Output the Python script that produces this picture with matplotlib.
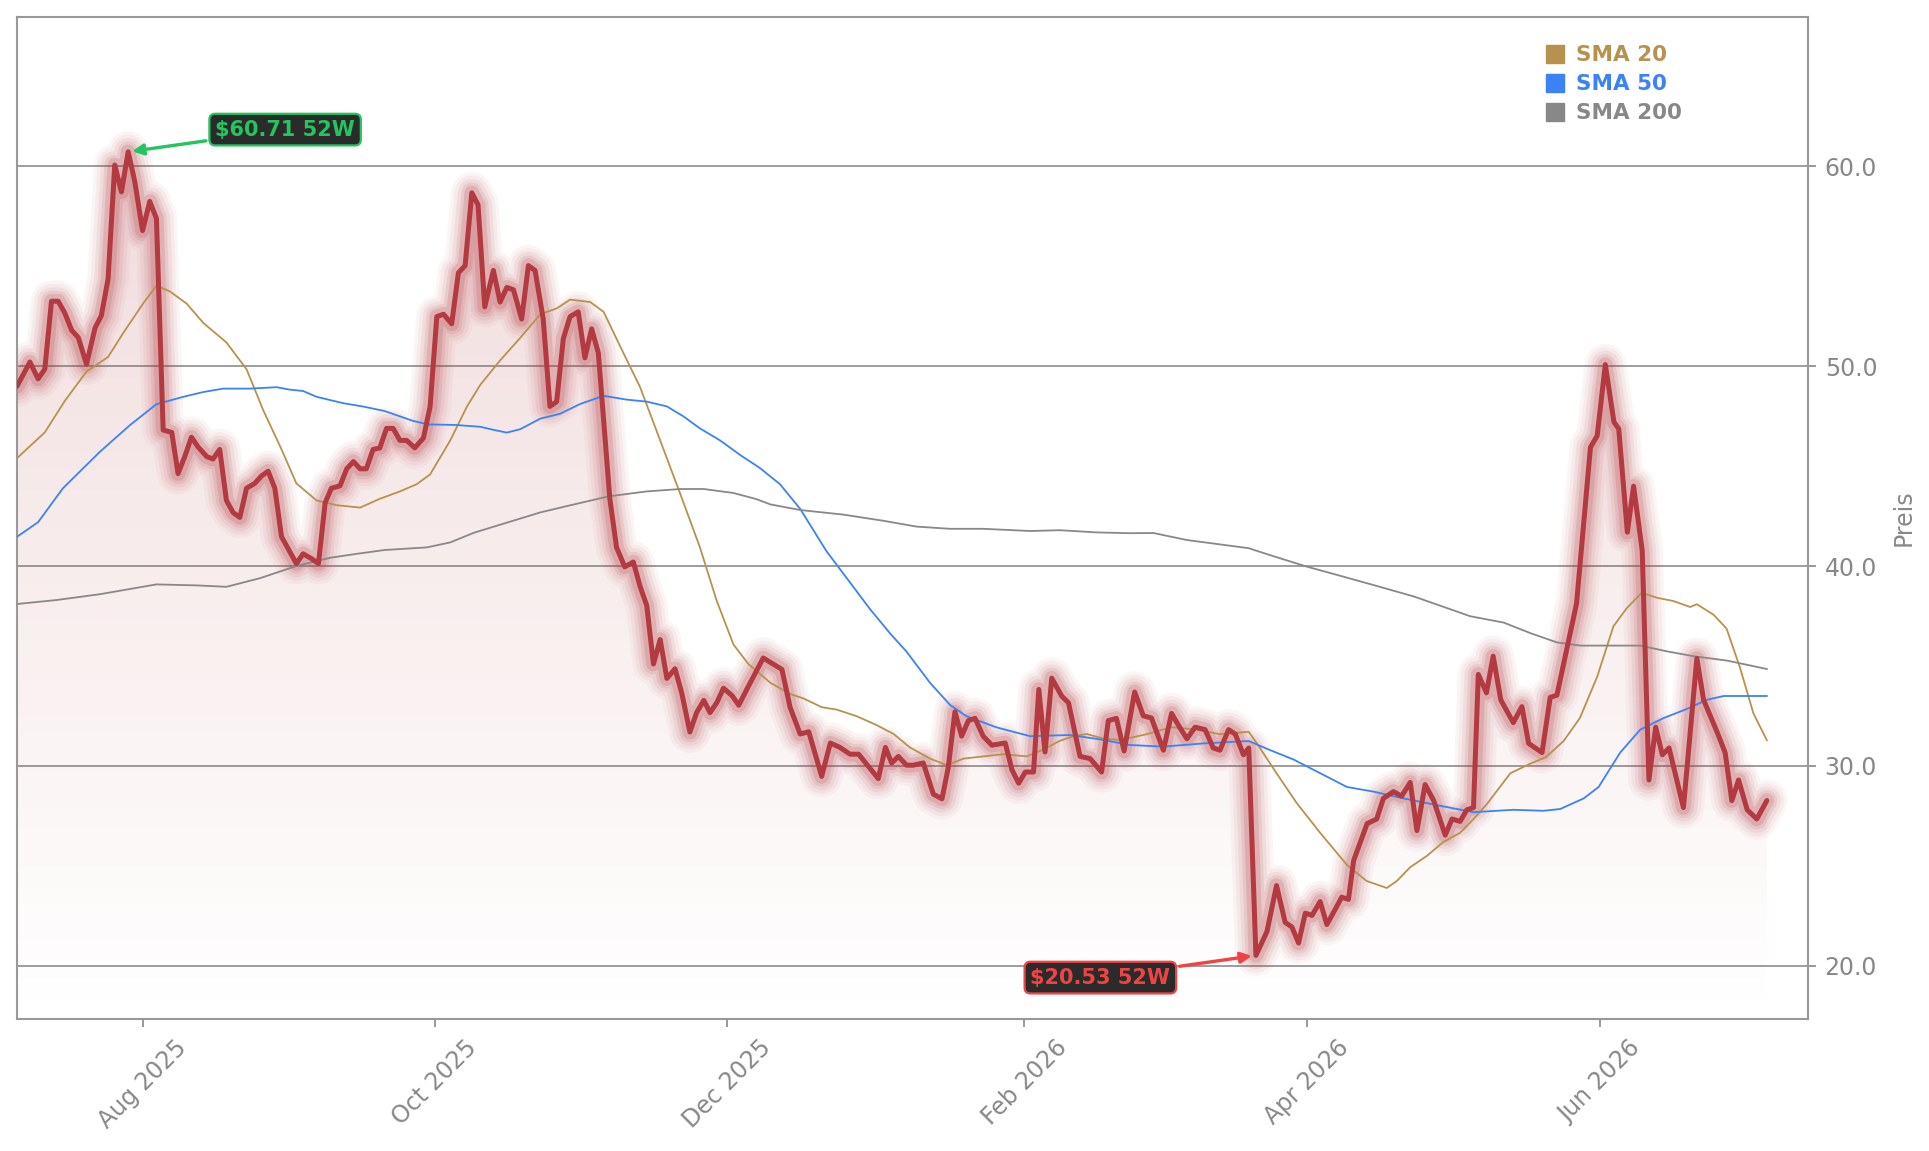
"""Kursverlauf mit SMA 20 / 50 / 200 und 52W Hoch/Tief."""

import matplotlib

matplotlib.use("Agg")
import matplotlib.dates as mdates
import matplotlib.pyplot as plt
import numpy as np
import pandas as pd
from matplotlib.colors import LinearSegmentedColormap
from matplotlib.lines import Line2D
from matplotlib.patches import Polygon

# --------------------------------------------------------------------------- #
# Daten (Tage relativ zum 2025-08-01)
# --------------------------------------------------------------------------- #
REF_DATE = pd.Timestamp("2025-08-01")
X_RANGE = (-26.2, 347.5)
Y_RANGE = (17.35, 67.45)

price_days = [
    -26.2, -23.5, -21.8, -20.4, -19.0, -17.6, -16.2, -14.8, -13.4, -11.7,
    -9.9, -8.6, -7.2, -5.8, -4.4, -3.0, -1.6, 0.0, 1.5, 2.9,
    4.3, 6.1, 7.4, 8.8, 10.2, 11.6, 13.4, 14.7, 16.1, 17.5,
    18.9, 20.3, 21.7, 23.4, 24.8, 26.2, 27.6, 29.0, 30.7, 32.1,
    33.5, 35.3, 36.7, 38.1, 39.4, 41.2, 42.6, 44.0, 45.4, 46.7,
    48.1, 49.5, 50.9, 52.3, 53.7, 55.1, 56.8, 58.6, 60.0, 61.4,
    62.8, 64.5, 65.9, 67.3, 68.7, 70.0, 71.4, 73.2, 74.6, 76.0,
    77.4, 79.1, 80.5, 81.9, 83.6, 85.0, 86.4, 87.8, 89.2, 90.9,
    92.3, 93.7, 95.1, 97.5, 98.9, 100.6, 102.4, 103.8, 105.2, 106.6,
    108.0, 109.4, 111.1, 112.5, 114.2, 115.6, 117.1, 118.4, 119.8, 121.2,
    123.0, 124.4, 126.2, 129.5, 133.4, 135.1, 137.2, 139.0, 141.7, 143.5,
    145.5, 147.6, 149.4, 153.5, 155.0, 156.3, 157.7, 159.4, 160.8, 162.9,
    165.0, 166.8, 168.1, 169.5, 170.9, 172.3, 173.7, 175.4, 177.2, 180.0,
    181.4, 182.8, 184.2, 185.9, 187.0, 188.3, 189.7, 191.8, 193.2, 195.6,
    197.7, 200.1, 201.5, 203.2, 204.8, 207.0, 208.8, 210.5, 213.0, 214.7,
    216.1, 217.9, 219.6, 221.7, 223.4, 224.8, 226.6, 228.0, 229.7, 230.8,
    232.3, 234.6, 236.6, 238.4, 239.8, 241.2, 242.6, 244.0, 245.7, 247.1,
    249.2, 250.2, 251.6, 252.7, 254.1, 255.5, 257.5, 258.9, 261.0, 262.7,
    264.5, 265.9, 267.6, 269.4, 271.8, 273.2, 274.9, 276.3, 277.7, 278.7,
    280.4, 281.8, 283.4, 286.0, 287.8, 289.2, 292.0, 293.7, 295.1, 299.2,
    302.1, 303.5, 305.2, 307.0, 308.0, 309.8, 311.1, 312.9, 314.3, 315.7,
    317.1, 318.5, 321.5, 324.3, 325.7, 328.5, 330.2, 331.6, 333.0, 334.8,
    336.8, 338.9,
]
price_vals = [
    48.99, 50.20, 49.36, 49.84, 53.24, 53.24, 52.64, 51.79, 51.42, 50.09,
    51.91, 52.52, 54.34, 60.05, 58.71, 60.71, 59.20, 56.77, 58.23, 57.38,
    46.80, 46.68, 44.62, 45.47, 46.44, 45.95, 45.47, 45.35, 45.83, 43.28,
    42.67, 42.43, 43.89, 44.13, 44.50, 44.74, 43.89, 41.46, 40.73, 40.12,
    40.61, 40.36, 40.12, 43.16, 43.89, 44.01, 44.86, 45.22, 44.86, 44.86,
    45.83, 45.90, 46.88, 46.88, 46.28, 46.28, 45.91, 46.40, 47.98, 52.47,
    52.59, 52.11, 54.66, 55.02, 58.66, 58.06, 52.96, 54.78, 53.20, 53.93,
    53.81, 52.35, 55.02, 54.78, 52.35, 47.98, 48.22, 51.38, 52.47, 52.71,
    50.41, 51.86, 50.65, 43.36, 40.93, 39.96, 40.20, 38.99, 38.02, 35.10,
    36.32, 34.38, 34.86, 33.65, 31.70, 32.67, 33.28, 32.67, 33.16, 33.89,
    33.52, 33.04, 33.89, 35.40, 34.83, 32.94, 31.60, 31.71, 29.48, 31.15,
    30.93, 30.59, 30.59, 29.37, 30.93, 30.15, 30.48, 30.04, 30.04, 30.15,
    28.59, 28.36, 29.92, 32.71, 31.49, 32.27, 32.38, 31.49, 31.04, 31.15,
    29.81, 29.14, 29.70, 29.70, 33.83, 30.70, 34.39, 33.49, 33.16, 30.48,
    30.37, 29.70, 32.27, 32.38, 30.75, 33.70, 32.51, 32.40, 30.79, 32.63,
    32.05, 31.36, 31.94, 31.82, 30.90, 30.79, 31.82, 31.59, 30.56, 30.90,
    20.53, 21.72, 24.02, 22.18, 21.95, 21.15, 22.64, 22.53, 23.22, 22.07,
    22.99, 23.44, 23.33, 25.28, 26.20, 27.12, 27.35, 28.38, 28.72, 28.49,
    29.18, 26.77, 29.07, 28.27, 26.54, 27.35, 27.23, 27.81, 27.92, 34.58,
    33.66, 35.49, 33.30, 32.17, 32.97, 31.13, 30.67, 33.43, 33.54, 38.13,
    45.94, 46.51, 50.07, 47.20, 46.86, 41.69, 43.99, 40.77, 29.30, 31.94,
    30.56, 30.90, 27.92, 35.38, 33.31, 31.71, 30.67, 28.27, 29.30, 27.81,
    27.35, 28.27,
]

sma20_days = [
    -26.2, -20.4, -16.2, -11.7, -7.2, -4.0, 0.1, 2.9, 5.7, 9.2,
    12.7, 17.5, 21.7, 25.2, 29.0, 32.1, 36.3, 40.5, 45.4, 49.5,
    53.7, 57.2, 60.0, 64.2, 67.7, 70.5, 74.6, 78.7, 83.0, 86.4,
    89.2, 93.4, 96.2, 99.6, 103.8, 108.0, 112.2, 116.3, 119.8, 123.3,
    126.4, 131.0, 135.1, 137.9, 141.7, 144.8, 149.0, 153.2, 156.7, 160.1,
    164.3, 167.8, 171.3, 175.4, 179.6, 184.5, 187.9, 191.4, 194.2, 197.0,
    200.5, 204.0, 209.5, 214.7, 219.9, 224.8, 230.8, 232.5, 236.6, 240.8,
    245.7, 251.3, 255.4, 259.6, 261.7, 264.5, 268.0, 271.4, 274.9, 277.7,
    280.5, 283.2, 285.4, 289.4, 292.8, 296.5, 299.9, 303.5, 306.9, 309.7,
    312.8, 316.0, 319.4, 322.9, 324.3, 327.8, 330.5, 333.3, 336.1, 338.9,
]
sma20_vals = [
    45.39, 46.68, 48.26, 49.72, 50.45, 51.66, 53.12, 54.02, 53.73, 53.12,
    52.15, 51.18, 49.84, 47.78, 45.83, 44.13, 43.28, 43.04, 42.92, 43.36,
    43.73, 44.09, 44.58, 46.28, 47.98, 49.07, 50.28, 51.38, 52.59, 52.88,
    53.32, 53.20, 52.71, 51.01, 48.95, 46.28, 43.60, 40.93, 38.26, 36.07,
    35.10, 34.16, 33.60, 33.38, 32.94, 32.82, 32.49, 32.04, 31.60, 30.93,
    30.37, 30.04, 30.37, 30.48, 30.59, 30.48, 30.82, 31.26, 31.49, 31.60,
    31.37, 31.30, 31.59, 31.94, 31.82, 31.59, 31.71, 31.13, 29.64, 28.15,
    26.66, 25.05, 24.25, 23.90, 24.25, 24.94, 25.51, 26.20, 26.66, 27.35,
    28.10, 28.95, 29.64, 30.10, 30.44, 31.25, 32.40, 34.46, 36.99, 37.90,
    38.66, 38.41, 38.25, 37.95, 38.09, 37.56, 36.87, 34.92, 32.63, 31.29,
]

sma50_days = [
    -26.2, -21.8, -16.6, -8.9, -2.6, 2.9, 8.5, 12.7, 16.8, 22.4,
    28.0, 30.7, 33.5, 36.3, 41.9, 46.1, 50.5, 56.5, 59.6, 65.5,
    70.5, 73.2, 76.0, 78.8, 83.0, 87.1, 91.3, 96.2, 101.0, 105.2,
    109.4, 112.8, 116.3, 120.5, 124.7, 128.8, 133.0, 137.2, 142.7, 147.6,
    151.8, 156.0, 159.4, 164.3, 168.5, 171.9, 178.2, 185.2, 193.5, 199.8,
    206.0, 213.0, 221.4, 230.8, 235.3, 240.1, 245.7, 251.3, 256.8, 263.1,
    270.1, 277.7, 286.0, 292.3, 295.8, 300.7, 303.8, 308.3, 312.5, 317.4,
    322.3, 326.4, 329.9, 334.8, 338.9,
]
sma50_vals = [
    41.46, 42.19, 43.89, 45.71, 47.05, 48.09, 48.46, 48.70, 48.87, 48.87,
    48.94, 48.82, 48.75, 48.46, 48.14, 47.97, 47.75, 47.25, 47.08, 47.05,
    46.96, 46.81, 46.67, 46.84, 47.37, 47.61, 48.10, 48.51, 48.32, 48.22,
    47.98, 47.49, 46.88, 46.28, 45.55, 44.90, 44.09, 42.86, 40.74, 39.18,
    37.84, 36.62, 35.72, 34.16, 33.05, 32.49, 31.93, 31.49, 31.55, 31.33,
    31.05, 30.97, 31.13, 31.25, 30.79, 30.33, 29.64, 28.95, 28.72, 28.38,
    28.04, 27.69, 27.81, 27.76, 27.85, 28.38, 28.95, 30.67, 31.82, 32.40,
    32.86, 33.31, 33.50, 33.50, 33.50,
]

sma200_days = [
    -26.2, -17.9, -8.9, 2.9, 11.3, 17.5, 24.5, 32.1, 39.1, 44.7,
    50.5, 59.3, 64.2, 69.1, 77.4, 83.0, 88.6, 97.2, 105.2, 112.2,
    117.1, 123.3, 128.0, 131.0, 137.2, 146.2, 154.6, 161.5, 168.5, 175.4,
    185.2, 191.4, 199.1, 206.0, 210.9, 217.9, 230.8, 235.3, 242.9, 249.9,
    256.8, 265.2, 270.7, 277.0, 284.0, 289.6, 295.1, 300.0, 307.0, 312.5,
    318.1, 323.6, 330.6, 338.9,
]
sma200_vals = [
    38.10, 38.30, 38.59, 39.08, 39.03, 38.96, 39.39, 40.00, 40.41, 40.61,
    40.80, 40.93, 41.18, 41.66, 42.27, 42.68, 43.00, 43.48, 43.73, 43.85,
    43.85, 43.65, 43.35, 43.08, 42.80, 42.57, 42.26, 41.97, 41.86, 41.86,
    41.75, 41.79, 41.68, 41.64, 41.65, 41.30, 40.89, 40.54, 39.97, 39.51,
    39.05, 38.48, 38.02, 37.49, 37.17, 36.64, 36.18, 36.02, 36.02, 36.02,
    35.73, 35.49, 35.27, 34.85,
]

sma_labels = ["SMA 20", "SMA 50", "SMA 200"]

# --------------------------------------------------------------------------- #
# Stil
# --------------------------------------------------------------------------- #
PRICE_COLOR = "#b23a40"
SMA_COLORS = ["#b8924c", "#3b82f6", "#888888"]
GREEN = "#22c55e"
RED = "#ef4444"
AXIS_GRAY = "#999999"
TEXT_GRAY = "#888888"

plt.rcParams["font.family"] = ["DejaVu Sans"]


def to_num(days):
    return mdates.date2num(REF_DATE + pd.to_timedelta(np.asarray(days), unit="D"))


x_price = to_num(price_days)
y_price = np.asarray(price_vals)

fig = plt.figure(figsize=(19.29, 11.51), dpi=100)
ax = fig.add_axes([0.0088, 0.1147, 0.9285, 0.8705])
ax.set_xlim(to_num(X_RANGE))
ax.set_ylim(*Y_RANGE)

# Gradient-Fläche unter dem Kurs
poly = Polygon(
    [(x_price[0], Y_RANGE[0])] + list(zip(x_price, y_price)) + [(x_price[-1], Y_RANGE[0])],
    closed=True, facecolor="none", edgecolor="none",
)
ax.add_patch(poly)
cmap = LinearSegmentedColormap.from_list(
    "fade", [(0.70, 0.23, 0.25, 0.0), (0.70, 0.23, 0.25, 0.18)]
)
grad = np.linspace(0, 1, 256).reshape(-1, 1)
im = ax.imshow(
    grad, aspect="auto", cmap=cmap, origin="lower", zorder=1,
    extent=[x_price[0], x_price[-1], Y_RANGE[0], y_price.max()],
)
im.set_clip_path(poly)

# Glow um die Kurslinie
for lw, alpha in [(30, 0.045), (25, 0.06), (20, 0.08), (15, 0.11), (10.5, 0.17)]:
    ax.plot(x_price, y_price, color=PRICE_COLOR, lw=lw, alpha=alpha,
            solid_joinstyle="round", solid_capstyle="round", zorder=2)

for days, vals, color in zip(
    [sma20_days, sma50_days, sma200_days],
    [sma20_vals, sma50_vals, sma200_vals],
    SMA_COLORS,
):
    ax.plot(to_num(days), vals, color=color, lw=1.3, zorder=3)

ax.plot(x_price, y_price, color=PRICE_COLOR, lw=3.6,
        solid_joinstyle="round", solid_capstyle="round", zorder=4)

# 52W Hoch / Tief
i_hi = int(np.argmax(y_price))
i_lo = int(np.argmin(y_price))
for idx, color, offset in [(i_hi, GREEN, (113, 16)), (i_lo, RED, (-112, -16))]:
    ax.annotate(
        f"${y_price[idx]:.2f} 52W",
        xy=(x_price[idx], y_price[idx]), xytext=offset, textcoords="offset points",
        ha="center", va="center", color=color, fontsize=15, fontweight="bold",
        bbox=dict(boxstyle="round,pad=0.28", fc="#2b2b2b", ec=color, lw=1.6),
        arrowprops=dict(arrowstyle="-|>", color=color, lw=2.4,
                        mutation_scale=16, shrinkA=2, shrinkB=3),
        zorder=6,
    )

# Achsen
ax.grid(axis="y", color="#8c8c8c", lw=1.2)
ax.grid(axis="x", visible=False)
ax.set_axisbelow(True)
ax.set_yticks([20, 30, 40, 50, 60])
ax.yaxis.set_major_formatter(matplotlib.ticker.FormatStrFormatter("%.1f"))
ax.yaxis.tick_right()
ax.yaxis.set_label_position("right")
ax.set_ylabel("Preis", color=TEXT_GRAY, fontsize=17, labelpad=10)

ax.xaxis.set_major_locator(mdates.MonthLocator(bymonth=(2, 4, 6, 8, 10, 12)))
ax.xaxis.set_major_formatter(mdates.DateFormatter("%b %Y"))
ax.tick_params(axis="x", labelrotation=45, labelsize=17, colors=TEXT_GRAY,
               length=6, width=1.2, pad=6)
ax.tick_params(axis="y", labelsize=17, colors=TEXT_GRAY, length=6, width=1.2, pad=6)
for tl in ax.xaxis.get_ticklines() + ax.yaxis.get_ticklines():
    tl.set_color(AXIS_GRAY)
for sp in ax.spines.values():
    sp.set_color(AXIS_GRAY)
    sp.set_linewidth(1.5)

handles = [Line2D([0], [0], marker="s", ls="none", color=c, markersize=12.5)
           for c in SMA_COLORS]
leg = ax.legend(
    handles, sma_labels, loc="upper left", bbox_to_anchor=(0.854, 0.972),
    frameon=False, handlelength=0.8, handletextpad=0.55, labelspacing=0.42,
    borderpad=0, borderaxespad=0, prop={"weight": "bold", "size": 15.5},
)
for txt, c in zip(leg.get_texts(), SMA_COLORS):
    txt.set_color(c)

fig.savefig("out.png", dpi=100)
plt.close(fig)
